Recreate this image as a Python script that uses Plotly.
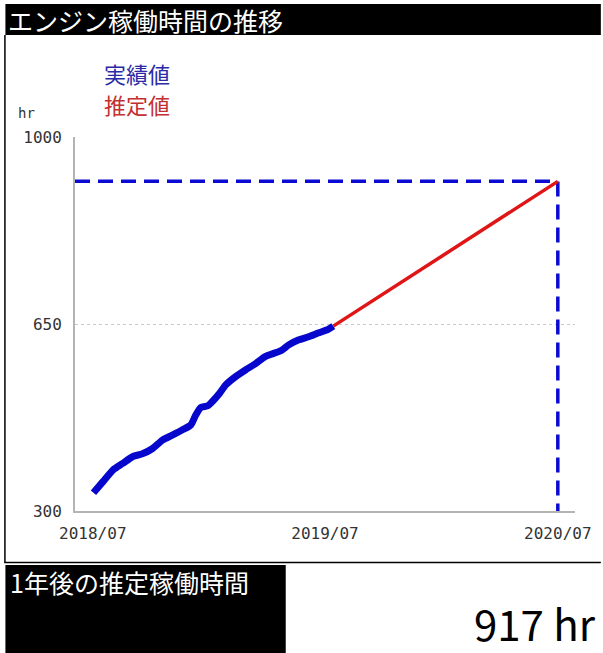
import plotly.graph_objects as go

# ---------------- data ----------------
title_text = "エンジン稼働時間の推移"
actual_label = "実績値"
estimate_label = "推定値"
unit_label = "hr"
summary_label = "1年後の推定稼働時間"

actual_dates = [
    "2018-07-02", "2018-07-17", "2018-08-02", "2018-08-17", "2018-09-02",
    "2018-09-17", "2018-10-03", "2018-10-19", "2018-11-03", "2018-11-19",
    "2018-12-02", "2018-12-10", "2018-12-18", "2018-12-29", "2019-01-05",
    "2019-01-16", "2019-01-26", "2019-02-10", "2019-02-26", "2019-03-14",
    "2019-03-29", "2019-04-14", "2019-04-24", "2019-05-05", "2019-05-20",
    "2019-06-05", "2019-06-20", "2019-07-06", "2019-07-14",
]
actual_hours = [
    334, 355, 377, 389, 402,
    407, 417, 433, 442, 452,
    461, 480, 494, 497, 505,
    520, 536, 551, 564, 576,
    589, 596, 601, 611, 620,
    626, 633, 640, 646,
]
projected_date = "2020-07-01"
projected_hours = 917

y_ticks = [300, 650, 1000]
x_tick_dates = ["2018-07-01", "2019-07-01", "2020-07-01"]
x_tick_labels = ["2018/07", "2019/07", "2020/07"]
x_range = ["2018-06-03", "2020-07-28"]
y_range = [300, 1000]

# ---------------- layout helpers ----------------
W, H = 603, 653
L, R, T, B = 75, 578, 137, 511


def px(x):
    return (x - L) / (R - L)


def py(y):
    return (B - y) / (B - T)


CJK = "Noto Sans CJK JP"
MONO = "DejaVu Sans Mono"

fig = go.Figure()

# dashed guide lines to the projected value
fig.add_trace(go.Scatter(
    x=[x_range[0], projected_date, projected_date],
    y=[projected_hours, projected_hours, y_range[0]],
    mode="lines",
    line=dict(color="#0a0ad2", width=3.5, dash="15px,8px"),
    hoverinfo="skip", showlegend=False,
))
# estimate line
fig.add_trace(go.Scatter(
    x=[actual_dates[-1], projected_date],
    y=[actual_hours[-1], projected_hours],
    mode="lines",
    line=dict(color="#e01515", width=3.5),
    name=estimate_label, showlegend=False,
))
# actual line
fig.add_trace(go.Scatter(
    x=actual_dates, y=actual_hours,
    mode="lines",
    line=dict(color="#0606cc", width=7, shape="spline", smoothing=0.6),
    name=actual_label, showlegend=False,
))

shapes = [
    # title bar
    dict(type="rect", xref="paper", yref="paper",
         x0=px(5), x1=px(604), y0=py(35), y1=py(4),
         fillcolor="black", line=dict(width=0), layer="below"),
    # left border
    dict(type="line", xref="paper", yref="paper",
         x0=px(4.5), x1=px(4.5), y0=py(35), y1=py(563),
         line=dict(color="black", width=1.5)),
    # separator line
    dict(type="line", xref="paper", yref="paper",
         x0=px(4), x1=px(604), y0=py(562.5), y1=py(562.5),
         line=dict(color="black", width=1.5)),
    # bottom label box
    dict(type="rect", xref="paper", yref="paper",
         x0=px(5), x1=px(287), y0=py(654), y1=py(565),
         fillcolor="black", line=dict(width=0), layer="below"),
]

annotations = [
    dict(text=title_text, x=px(6), y=py(20), xanchor="left", yanchor="middle",
         font=dict(family=CJK, size=25, color="white")),
    dict(text=actual_label, x=px(102), y=py(73), xanchor="left", yanchor="middle",
         font=dict(family=CJK, size=22, color="#2a2aa6")),
    dict(text=estimate_label, x=px(102), y=py(104), xanchor="left", yanchor="middle",
         font=dict(family=CJK, size=22, color="#c43030")),
    dict(text=unit_label, x=px(16), y=py(113), xanchor="left", yanchor="middle",
         font=dict(family=MONO, size=14, color="#333333")),
    dict(text=summary_label, x=px(8), y=py(582), xanchor="left", yanchor="middle",
         font=dict(family=CJK, size=25, color="white")),
    dict(text=f"{projected_hours} {unit_label}", x=px(601), y=py(622),
         xanchor="right", yanchor="middle",
         font=dict(family=CJK, size=42, color="black")),
]
for a in annotations:
    a.update(xref="paper", yref="paper", showarrow=False)

fig.update_layout(
    width=W, height=H,
    margin=dict(l=L, r=W - R, t=T, b=H - B, pad=0),
    paper_bgcolor="white", plot_bgcolor="white",
    shapes=shapes, annotations=annotations,
    showlegend=False,
)
fig.update_xaxes(
    type="date", range=x_range,
    tickmode="array", tickvals=x_tick_dates, ticktext=x_tick_labels,
    showgrid=False, zeroline=False,
    showline=True, linecolor="#b4b4b4", linewidth=2,
    ticks="", ticklabelstandoff=7,
    tickfont=dict(family=MONO, size=16, color="#333333"),
)
fig.update_yaxes(
    range=y_range, tickmode="array", tickvals=y_ticks,
    showgrid=True, gridcolor="#c8c8c8", griddash="dot", gridwidth=1,
    zeroline=False,
    showline=True, linecolor="#b4b4b4", linewidth=2,
    ticks="", ticklabelstandoff=8,
    tickfont=dict(family=MONO, size=16, color="#333333"),
)

fig.write_html(
    "out.html",
    config={"displayModeBar": False},
    post_script="document.body.style.margin='0px';document.body.style.overflow='hidden';",
)
